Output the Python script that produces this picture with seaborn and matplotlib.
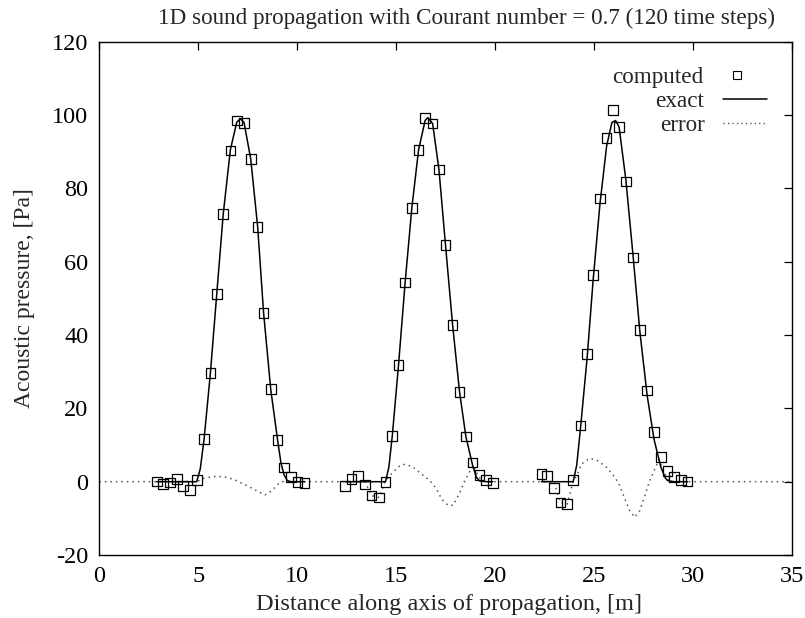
import numpy as np
import pandas as pd
import matplotlib
matplotlib.use("Agg")
import matplotlib.pyplot as plt
from matplotlib.lines import Line2D
from matplotlib.legend import Legend
import seaborn as sns

# ---------------- data ----------------
# computed values (squares), three snapshots of the pulse
comp_x1 = [2.90, 3.23, 3.57, 3.91, 4.24, 4.58, 4.92, 5.29, 5.61, 5.93, 6.26, 6.62,
           6.94, 7.31, 7.65, 8.00, 8.30, 8.66, 9.01, 9.34, 9.67, 10.02, 10.37]
comp_y1 = [0.1, -0.6, -0.2, 0.7, -1.1, -2.3, 0.5, 11.6, 29.6, 51.2, 73.0, 90.3,
           98.5, 97.8, 88.0, 69.4, 46.0, 25.2, 11.4, 3.9, 1.2, 0.0, -0.4]
comp_x2 = [12.41, 12.75, 13.08, 13.42, 13.76, 14.14, 14.46, 14.80, 15.12, 15.45, 15.79, 16.13,
           16.46, 16.84, 17.16, 17.49, 17.85, 18.20, 18.52, 18.86, 19.21, 19.55, 19.88]
comp_y2 = [-1.1, 0.7, 1.6, -0.8, -3.8, -4.3, 0.0, 12.4, 31.9, 54.3, 74.7, 90.5,
           99.2, 97.7, 85.1, 64.6, 42.7, 24.5, 12.3, 5.2, 1.9, 0.5, -0.3]
comp_x3 = [22.34, 22.63, 22.96, 23.30, 23.64, 23.94, 24.31, 24.65, 24.95, 25.29, 25.63, 25.96,
           26.26, 26.60, 26.97, 27.31, 27.68, 28.03, 28.37, 28.71, 29.04, 29.38, 29.72]
comp_y3 = [2.1, 1.5, -1.8, -5.7, -6.1, 0.5, 15.3, 34.9, 56.4, 77.2, 93.8, 101.3,
           96.8, 81.9, 61.1, 41.3, 24.9, 13.5, 6.7, 3.0, 1.2, 0.5, 0.1]

# exact solution (solid line), one segment per snapshot
exact_x1 = [2.90, 3.57, 4.24, 4.92, 5.10, 5.29, 5.61, 5.93, 6.26, 6.62, 6.94, 7.12,
            7.31, 7.65, 8.00, 8.30, 8.66, 9.01, 9.18, 9.34, 9.50, 9.67, 10.02, 10.37]
exact_y1 = [0, 0, 0, 0, 3.5, 11.5, 29.5, 51.0, 73.0, 90.5, 98.0, 99.0,
            98.0, 88.0, 69.5, 46.0, 25.2, 11.2, 5.0, 1.8, 0.3, 0, 0, 0]
exact_x2 = [12.41, 13.08, 13.76, 14.46, 14.63, 14.80, 15.12, 15.45, 15.79, 16.13, 16.46, 16.60,
            16.84, 17.16, 17.49, 17.85, 18.20, 18.52, 18.86, 19.05, 19.21, 19.55, 19.88]
exact_y2 = [0, 0, 0, 0, 4.0, 12.4, 32.0, 54.3, 74.7, 90.5, 98.5, 99.3,
            97.7, 85.1, 64.6, 42.7, 24.5, 12.3, 4.5, 1.2, 0.2, 0, 0]
exact_x3 = [22.34, 22.96, 23.64, 23.94, 24.12, 24.31, 24.65, 24.95, 25.29, 25.63, 25.90, 26.08,
            26.26, 26.60, 26.97, 27.31, 27.68, 28.03, 28.37, 28.60, 28.71, 29.04, 29.38, 29.72]
exact_y3 = [0, 0, 0, 0, 4.5, 14.5, 34.0, 55.0, 75.5, 91.5, 98.0, 98.5,
            96.8, 82.5, 61.5, 41.0, 23.5, 11.5, 4.0, 1.0, 0.3, 0, 0, 0]

# error (dotted line)
error_x = [0.0, 4.92, 5.27, 5.76, 6.26, 6.77, 7.19, 7.61, 8.03, 8.37, 8.71, 9.04, 9.21,
           13.42, 13.76, 14.14, 14.43, 14.85, 15.19, 15.49, 15.86, 16.28, 16.70, 17.04, 17.29,
           17.63, 17.88, 18.22, 18.47, 18.72, 18.90, 19.10, 19.30, 19.50,
           22.96, 23.30, 23.64, 23.94, 24.19, 24.36, 24.78, 25.20, 25.63, 26.05, 26.30, 26.55,
           26.80, 27.05, 27.31, 27.56, 27.81, 28.07, 28.28, 28.50, 28.70, 28.90, 35.0]
error_y = [0.0, 0.0, 0.9, 1.4, 1.4, 0.7, -0.4, -1.5, -2.7, -3.6, -2.5, -0.6, 0.0,
           0.0, -3.8, -4.3, 0.0, 2.7, 4.4, 4.8, 3.9, 2.1, 0.3, -2.0, -4.7,
           -6.5, -6.4, -2.9, 0.3, 2.8, 4.5, 2.0, 0.5, 0.0,
           0.0, -5.7, -6.1, 0.0, 2.5, 4.8, 6.4, 5.7, 3.9, 1.2, -1.1, -4.7,
           -7.9, -9.7, -7.9, -3.8, 0.3, 3.5, 6.0, 3.0, 0.8, 0.0, 0.0]

x_ticks = [0, 5, 10, 15, 20, 25, 30, 35]
y_ticks = [-20, 0, 20, 40, 60, 80, 100, 120]
title = "1D sound propagation with Courant number = 0.7 (120 time steps)"
xlabel = "Distance along axis of propagation, [m]"
ylabel = "Acoustic pressure, [Pa]"
legend_labels = ["computed", "exact", "error"]

# ---------------- tables ----------------
comp_df = pd.DataFrame({
    "x": comp_x1 + comp_x2 + comp_x3,
    "y": comp_y1 + comp_y2 + comp_y3,
})
exact_df = pd.DataFrame({
    "x": exact_x1 + exact_x2 + exact_x3,
    "y": exact_y1 + exact_y2 + exact_y3,
    "pulse": [1] * len(exact_x1) + [2] * len(exact_x2) + [3] * len(exact_x3),
})
error_df = pd.DataFrame({"x": error_x, "y": error_y})

# ---------------- style ----------------
sns.set_theme(style="white")
plt.rcParams["font.family"] = ["Liberation Serif", "DejaVu Serif"]

fig = plt.figure(figsize=(8.05, 6.18), dpi=100)
fig.patch.set_facecolor("white")
ax = fig.add_axes([0.1234, 0.1019, 0.8605, 0.8306])
ax.set_facecolor("white")

ERR_COLOR = "#555555"
ERR_STYLE = (0, (1, 2.6))

sns.lineplot(data=error_df, x="x", y="y", ax=ax, color=ERR_COLOR, lw=1.1,
             linestyle=ERR_STYLE, estimator=None, legend=False)
sns.lineplot(data=exact_df, x="x", y="y", units="pulse", estimator=None, ax=ax,
             color="black", lw=1.1, legend=False)
sns.scatterplot(data=comp_df, x="x", y="y", ax=ax, marker="s", s=48,
                facecolor="none", edgecolor="black", linewidth=0.9, legend=False, zorder=3)

ax.set_xlim(0, 35)
ax.set_ylim(-20, 120)
ax.set_xticks(x_ticks)
ax.set_yticks(y_ticks)
ax.set_xticklabels([str(t) for t in x_ticks])
ax.set_yticklabels([str(t) for t in y_ticks])
ax.tick_params(axis="both", direction="in", length=5.5, width=0.9, labelsize=17.5,
               top=True, right=True, pad=8, colors="black")

for sp in ax.spines.values():
    sp.set_visible(True)
    sp.set_color("black")
    sp.set_linewidth(1.0)

ax.set_xlabel(xlabel, fontsize=17.5)
ax.set_ylabel(ylabel, fontsize=17)
ax.xaxis.label.set_va("center")
ax.xaxis.set_label_coords(0.505, -0.0955)
ax.yaxis.label.set_va("center")
ax.yaxis.set_label_coords(-0.108, 0.5)

fig.text(466 / 805, 1 - 18 / 618, title, ha="center", va="center", fontsize=16.7)

# legend: gnuplot style, right-aligned labels followed by the sample
handles = [
    Line2D([], [], marker="s", linestyle="none", markerfacecolor="none",
           markeredgecolor="black", markersize=5.5, markeredgewidth=0.8),
    Line2D([], [], color="black", lw=1.1),
    Line2D([], [], color=ERR_COLOR, lw=1.0, linestyle=(0, (1, 2.2))),
]
row_y = [0.931, 0.8845, 0.8377]
row_anchor_x = [0.938, 0.964, 0.964]
row_hlen = [1.0, 1.9, 1.9]
row_pad = [0.95, 0.8, 0.8]
for h, lab, yy, xx, hl, hp in zip(handles, legend_labels, row_y, row_anchor_x, row_hlen, row_pad):
    lg = Legend(ax, [h], [lab], loc="center right", bbox_to_anchor=(xx, yy),
                bbox_transform=ax.transAxes, frameon=False, markerfirst=False,
                fontsize=16.7, handlelength=hl, handletextpad=hp,
                borderaxespad=0, borderpad=0)
    ax.add_artist(lg)

fig.savefig("out.png", dpi=100, facecolor="white")
